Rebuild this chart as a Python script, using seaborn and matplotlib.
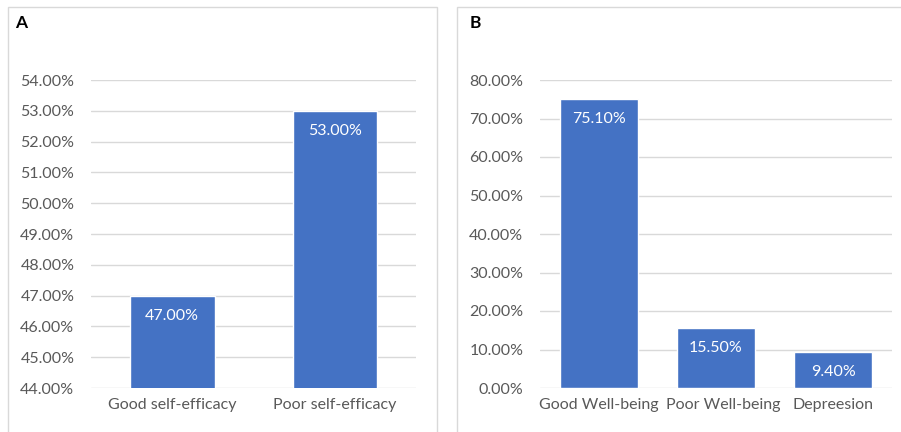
import matplotlib
matplotlib.use("Agg")
import matplotlib.pyplot as plt
import matplotlib.transforms as mtransforms
import seaborn as sns
import pandas as pd
import numpy as np
from matplotlib.patches import Rectangle
from matplotlib.ticker import FuncFormatter

cats_a = ["Good self-efficacy", "Poor self-efficacy"]
vals_a = [47.00, 53.00]
cats_b = ["Good Well-being", "Poor Well-being", "Depreesion"]
vals_b = [75.10, 15.50, 9.40]

sns.set_theme(style="white")
plt.rcParams['font.family'] = ['Lato', 'DejaVu Sans']

BAR = "#4472C4"
TXT = "#595959"
GRID = "#D9D9D9"

fig = plt.figure(figsize=(9.01, 4.32), dpi=100)
W, H = 901, 432

def fx(x): return x / W
def fy(y): return 1 - y / H

# panel borders
for (l, r) in [(8, 437), (457, 905)]:
    fig.patches.append(Rectangle((fx(l), fy(440)), fx(r - l), fy(7) - fy(440),
                                 transform=fig.transFigure, fill=False,
                                 edgecolor="#D9D9D9", linewidth=1.0))
fig.text(fx(15), fy(23), "A", fontsize=12.5, fontweight="bold", va="center", ha="left", color="black")
fig.text(fx(470), fy(23), "B", fontsize=12.5, fontweight="bold", va="center", ha="left", color="black")

axA = fig.add_axes([fx(91), fy(388), fx(416 - 91), fy(80) - fy(388)])
axB = fig.add_axes([fx(540), fy(388), fx(892 - 540), fy(80) - fy(388)])

def style(ax, cats, vals, ymin, ymax, step, width):
    df = pd.DataFrame({"cat": cats, "val": vals})
    sns.barplot(data=df, x="cat", y="val", color=BAR, saturation=1, width=width, ax=ax, zorder=3)
    ax.set_ylim(ymin, ymax)
    ax.set_yticks(np.arange(ymin, ymax + step / 2, step))
    ax.yaxis.set_major_formatter(FuncFormatter(lambda v, p: f"{v:.2f}%"))
    ax.grid(axis="y", color=GRID, linewidth=1, zorder=0)
    for s in ax.spines.values():
        s.set_visible(False)
    ax.set_xlabel("")
    ax.set_ylabel("")
    ax.tick_params(axis="both", length=0, labelcolor=TXT, labelsize=11.5)
    ax.tick_params(axis="y", pad=12)
    ax.tick_params(axis="x", pad=7)
    ax.set_xlim(-0.5, len(cats) - 0.5)
    for i, v in enumerate(vals):
        ax.annotate(f"{v:.2f}%", (i, v), xytext=(0, -14.5), textcoords="offset points",
                    ha="center", va="center", color="white", fontsize=11.5, zorder=4)

style(axA, cats_a, vals_a, 44, 54, 1, 0.52)
style(axB, cats_b, vals_b, 0, 80, 10, 0.665)

# nudge the middle category label right, as the original layout does to avoid overlap
lbl = axB.get_xticklabels()[1]
lbl.set_transform(lbl.get_transform() + mtransforms.ScaledTranslation(7 / 100, 0, fig.dpi_scale_trans))

fig.savefig("out.png", dpi=100)
